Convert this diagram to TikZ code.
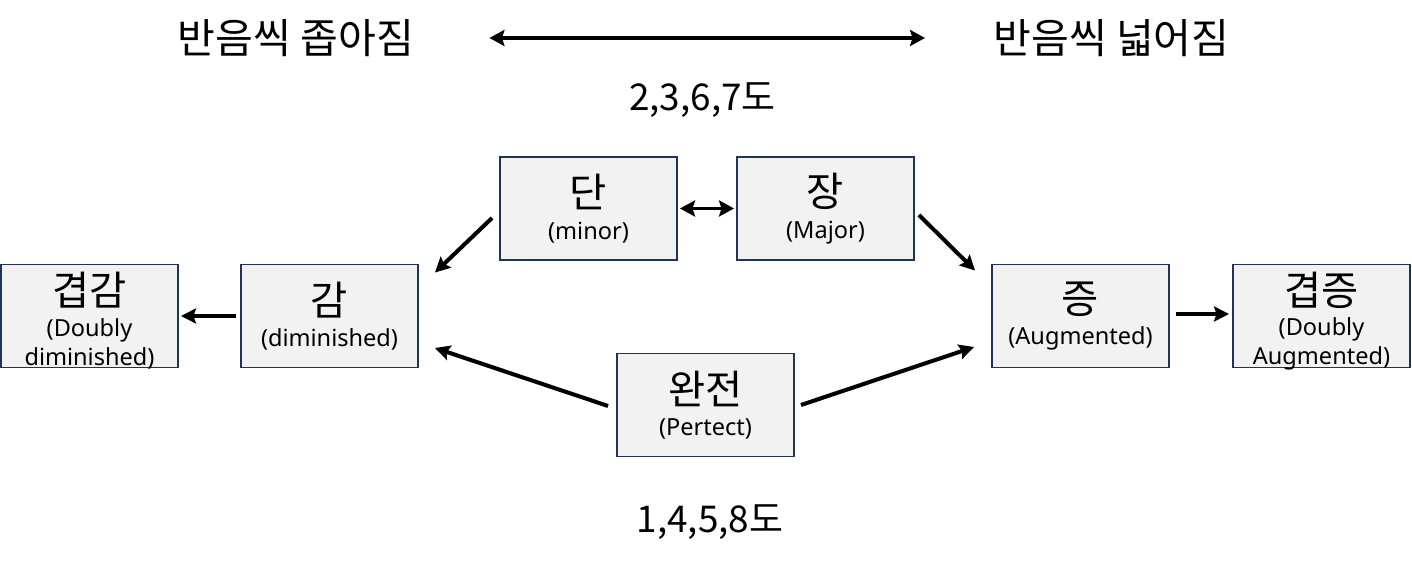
\documentclass[tikz,border=0pt]{standalone}
\usepackage{fontspec}
\setmainfont{Noto Sans}
\newfontfamily\kr{Noto Sans CJK KR}
\usetikzlibrary{positioning,arrows.meta}
\definecolor{boxfill}{RGB}{242,242,242}
\definecolor{boxline}{RGB}{31,52,88}
\newcommand{\kname}[1]{{\kr\fontsize{23}{26}\selectfont #1}}

\begin{document}
\begin{tikzpicture}[
    box/.style={rectangle, draw=boxline, line width=1.1pt, fill=boxfill, minimum width=3.54cm, minimum height=2.06cm, inner sep=0pt, align=center, font=\fontsize{13.4}{16}\selectfont},
    boxtext/.style={inner sep=0pt, align=center, font=\fontsize{13.4}{16.5}\selectfont},
    title/.style={inner sep=0pt, font=\kr\fontsize{23.4}{26}\selectfont},
    numtitle/.style={inner sep=0pt, font=\kr\fontsize{21}{25}\selectfont},
    arrow/.style={-{Stealth[length=3mm, width=3mm, inset=0.5mm]}, line width=2.3pt},
    thinarrow/.style={{Stealth[length=3mm, width=3.2mm, inset=0.5mm]}-{Stealth[length=3mm, width=3.2mm, inset=0.5mm]}, line width=1.8pt}
]
\useasboundingbox (0,0) rectangle (28.24,-11.3);

% Top labels
\node[title] (narrow) at (5.92,-0.76) {반음씩 좁아짐};
\node[title] (wide) at (22.23,-0.76) {반음씩 넓어짐};
\node[numtitle] (imperf) at (14.05,-2.0) {2,3,6,7도};
\node[numtitle] (perfnum) at (14.2,-10.44) {1,4,5,8도};

% Interval boxes
\node[box] (minor) at (11.77,-4.17) {\kname{단}\\[2pt](minor)};
\node[box] (major) at (16.51,-4.17) {\kname{장}\\[2pt](Major)};
\node[box] (dim) at (6.59,-6.32) {\kname{감}\\[2pt](diminished)};
\node[box] (aug) at (21.61,-6.32) {\kname{증}\\[2pt](Augmented)};
\node[box] (perf) at (14.11,-8.10) {\kname{완전}\\[2pt](Pertect)};

% Doubly boxes (text runs over the frame)
\node[box] (ddim) at (1.79,-6.32) {};
\node[boxtext] (ddimtext) at ([yshift=-0.1cm]ddim.center) {\kname{겹감}\\[1pt](Doubly\\diminished)};
\node[box] (daug) at (26.43,-6.32) {};
\node[boxtext] (daugtext) at ([yshift=-0.1cm]daug.center) {\kname{겹증}\\[1pt](Doubly\\Augmented)};

% Arrows
\draw[thinarrow] ([xshift=1.5cm]narrow.east) -- ([xshift=-1.36cm]wide.west);
\draw[thinarrow] ([xshift=0.04cm]minor.east) -- ([xshift=-0.04cm]major.west);
\draw[arrow] ([xshift=-0.14cm,yshift=-0.19cm]minor.west) -- ([xshift=0.32cm,yshift=-0.18cm]dim.north east);
\draw[arrow] ([xshift=0.08cm,yshift=-0.13cm]major.east) -- ([xshift=-0.32cm,yshift=-0.14cm]aug.north west);
\draw[arrow] ([xshift=-0.16cm,yshift=-0.02cm]perf.west) -- ([xshift=0.32cm,yshift=-0.64cm]dim.east);
\draw[arrow] ([xshift=0.12cm]perf.east) -- ([xshift=-0.34cm,yshift=-0.62cm]aug.west);
\draw[arrow] ([xshift=-0.08cm]dim.west) -- ([xshift=0.04cm]ddim.east);
\draw[arrow] ([xshift=0.12cm,yshift=0.04cm]aug.east) -- ([xshift=-0.06cm,yshift=0.04cm]daug.west);

\end{tikzpicture}
\end{document}
